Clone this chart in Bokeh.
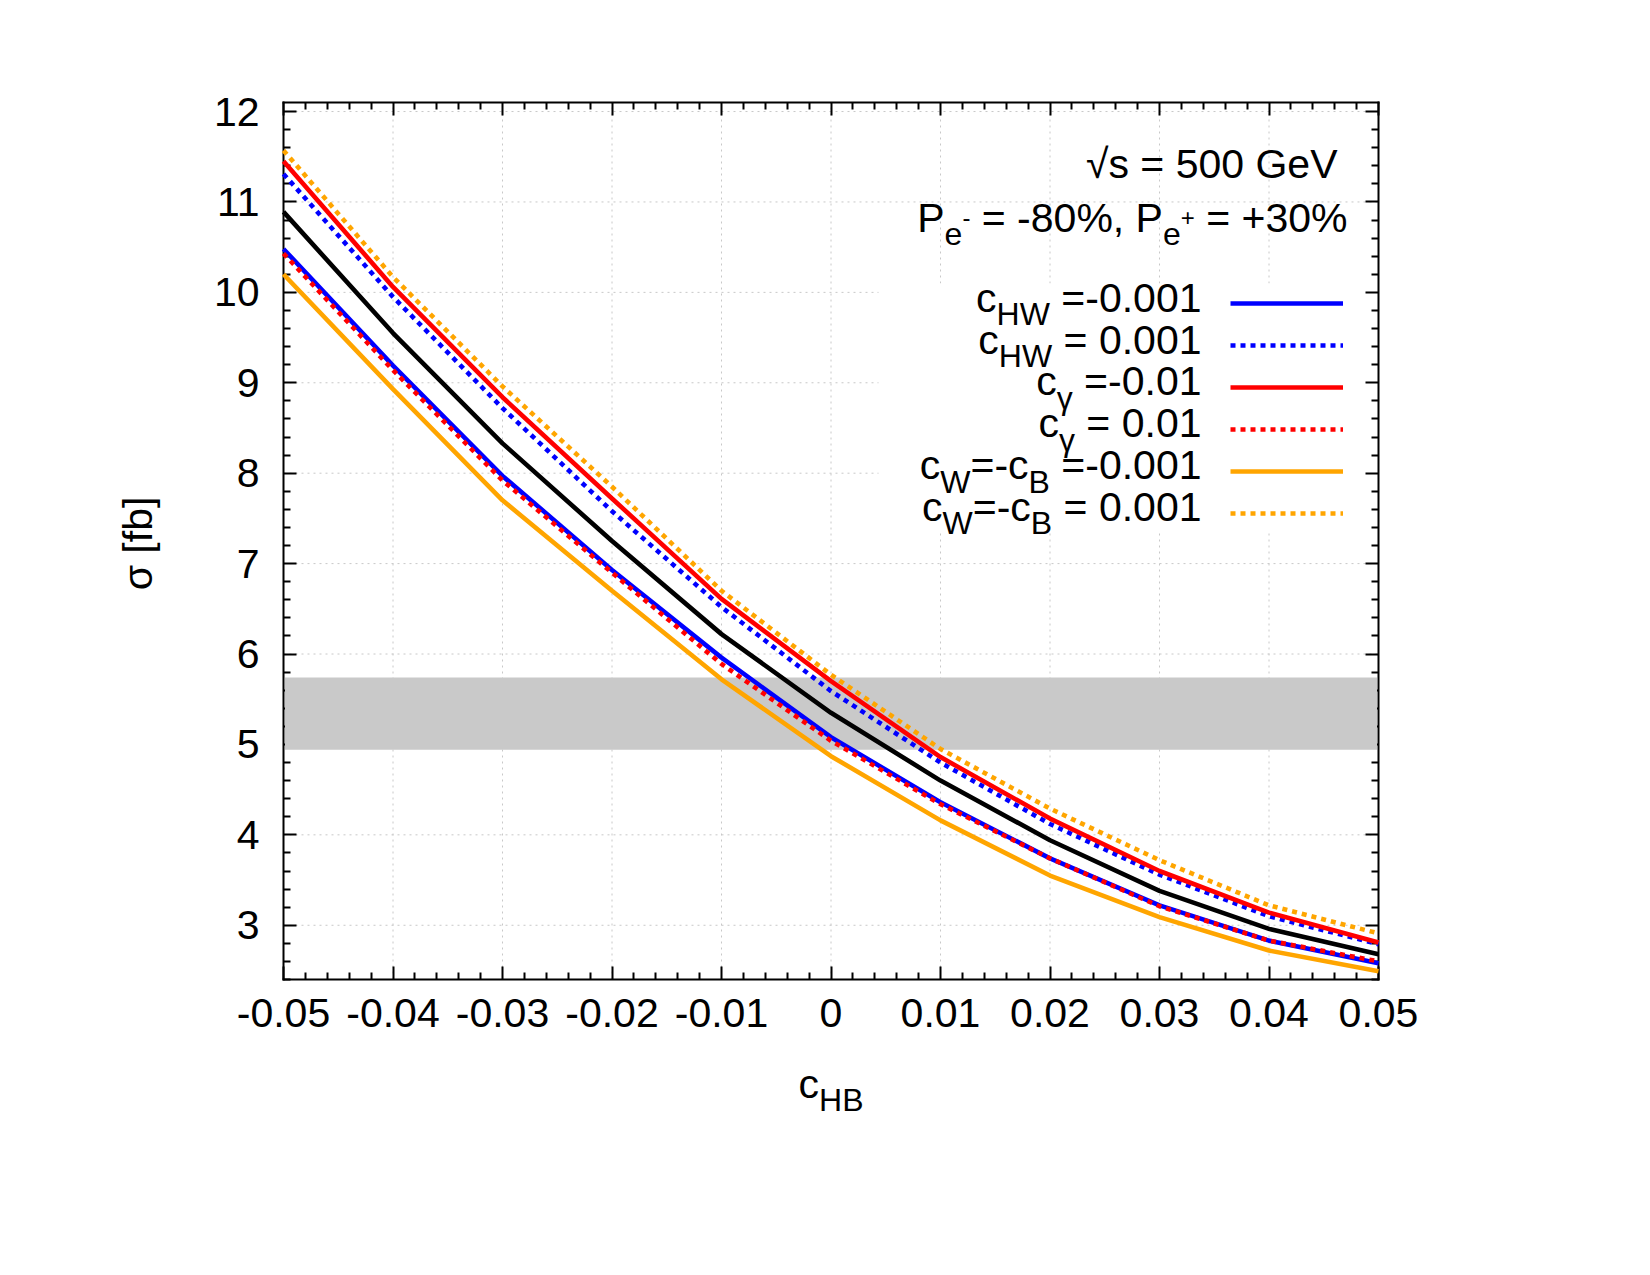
import math

import numpy as np
from bokeh.core.properties import value
from bokeh.embed import file_html
from bokeh.models import (BoxAnnotation, CustomJSTickFormatter, FixedTicker, Label,
                          Legend, LegendItem, LinearAxis, Range1d)
from bokeh.plotting import figure
from bokeh.resources import INLINE

# ---------------------------------------------------------------- data
c_hb = [-0.05, -0.04, -0.03, -0.02, -0.01, 0.0, 0.01, 0.02, 0.03, 0.04, 0.05]

sigma_sm      = [10.89, 9.55, 8.33, 7.25, 6.22, 5.35, 4.60, 3.94, 3.38, 2.96, 2.68]
sigma_chw_neg = [10.48, 9.19, 7.97, 6.93, 5.96, 5.08, 4.36, 3.74, 3.22, 2.83, 2.58]
sigma_chw_pos = [11.31, 9.95, 8.72, 7.58, 6.52, 5.59, 4.80, 4.12, 3.56, 3.10, 2.79]
sigma_cga_neg = [11.45, 10.06, 8.84, 7.72, 6.61, 5.70, 4.86, 4.18, 3.60, 3.14, 2.81]
sigma_cga_pos = [10.43, 9.14, 7.92, 6.90, 5.89, 5.04, 4.34, 3.74, 3.21, 2.83, 2.60]
sigma_cwb_neg = [10.20, 8.93, 7.70, 6.70, 5.72, 4.87, 4.16, 3.55, 3.09, 2.72, 2.49]
sigma_cwb_pos = [11.57, 10.17, 8.96, 7.85, 6.70, 5.77, 4.95, 4.29, 3.72, 3.22, 2.91]

# measured cross section band
band_lo, band_hi = 4.94, 5.74

x_ticks = [-0.05, -0.04, -0.03, -0.02, -0.01, 0.0, 0.01, 0.02, 0.03, 0.04, 0.05]
y_ticks = [3, 4, 5, 6, 7, 8, 9, 10, 11, 12]

# key entries: (label pieces, colour, dash, data)
series = [
    ([("c", "n"), ("HW", "sub"), (" =-0.001", "n")], "#0000ff", "solid", sigma_chw_neg),
    ([("c", "n"), ("HW", "sub"), (" = 0.001", "n")], "#0000ff", "dot", sigma_chw_pos),
    ([("c", "n"), ("\u03b3", "sub"), (" =-0.01", "n")], "#ff0000", "solid", sigma_cga_neg),
    ([("c", "n"), ("\u03b3", "sub"), (" = 0.01", "n")], "#ff0000", "dot", sigma_cga_pos),
    ([("c", "n"), ("W", "sub"), ("=-c", "n"), ("B", "sub"), (" =-0.001", "n")], "#ffa500", "solid", sigma_cwb_neg),
    ([("c", "n"), ("W", "sub"), ("=-c", "n"), ("B", "sub"), (" = 0.001", "n")], "#ffa500", "dot", sigma_cwb_pos),
]

# ---------------------------------------------------------------- layout
W, H = 1650, 1275
FL, FR, FT, FB = 283, 1378, 102, 979          # plot box edges in pixels
X0, X1, Y0, Y1 = -0.05, 0.05, 2.4, 12.1       # plot box in data units
FONT = "Liberation Sans"
FS, SUB, SUP = 41, 32, 24
LW = 4.6
DOT = "5 5"
BASE_SHIFT = 0.39                             # label anchor to baseline, in em


def px_to_x(px):
    return X0 + (px - FL) / (FR - FL) * (X1 - X0)


def py_to_y(py):
    return Y1 - (py - FT) / (FB - FT) * (Y1 - Y0)


# advance widths (1/1000 em) of the Helvetica/Arial metric set
ADV = {" ": 278, "%": 889, "+": 584, ",": 278, "-": 333, ".": 278, "=": 584,
       "B": 667, "G": 778, "H": 722, "P": 667, "V": 667, "W": 944,
       "c": 500, "e": 556, "s": 500, "\u03b3": 500, "\u221a": 549}
KIND = {"n": (FS, 0), "sub": (SUB, 13), "sup": (SUP, -7)}


def width(s, size):
    return sum(ADV.get(ch, 556) for ch in s) * size / 1000.0


# the drawing area covers the whole canvas; the axes sit on the box edges
p = figure(width=W, height=H,
           x_range=Range1d(px_to_x(0), px_to_x(W)), y_range=Range1d(py_to_y(H), py_to_y(0)),
           output_backend="svg", toolbar_location=None,
           min_border=0, min_border_left=0, min_border_right=0,
           min_border_top=0, min_border_bottom=0)
p.outline_line_color = None
p.background_fill_color = "white"
p.border_fill_color = "white"
p.xgrid.visible = False
p.ygrid.visible = False

x_minor = [round(v, 3) for v in np.arange(-0.05, 0.0501, 0.002) if round(v, 3) not in x_ticks]
y_minor = [round(v, 1) for v in np.arange(2.4, 12.11, 0.2) if abs(v - round(v)) > 1e-6]
x_ticker = FixedTicker(ticks=x_ticks, minor_ticks=x_minor)
y_ticker = FixedTicker(ticks=y_ticks, minor_ticks=y_minor)

x_fmt = CustomJSTickFormatter(code="return Math.abs(tick) < 1e-9 ? '0' : tick.toFixed(2);")
y_fmt = CustomJSTickFormatter(code="return tick.toFixed(0);")
blank = CustomJSTickFormatter(code="return '';")


def style_axis(ax, ticker, fmt, standoff, loc, bounds):
    ax.fixed_location = loc
    ax.bounds = bounds
    ax.ticker = ticker
    ax.formatter = fmt
    ax.axis_line_width = 2
    ax.axis_line_color = "black"
    ax.axis_line_cap = "square"
    ax.major_tick_line_width = 2
    ax.minor_tick_line_width = 2
    ax.major_tick_in = 13
    ax.major_tick_out = 0
    ax.minor_tick_in = 7
    ax.minor_tick_out = 0
    ax.major_label_text_font = FONT
    ax.major_label_text_font_size = f"{FS}px"
    ax.major_label_text_color = "black"
    ax.major_label_standoff = standoff


style_axis(p.xaxis[0], x_ticker, x_fmt, 19, Y0, (X0, X1))
style_axis(p.yaxis[0], y_ticker, y_fmt, 24, X0, (Y0, Y1))
top_axis = LinearAxis()
right_axis = LinearAxis()
style_axis(top_axis, x_ticker, blank, 0, Y1, (X0, X1))
style_axis(right_axis, y_ticker, blank, 0, X1, (Y0, Y1))
p.add_layout(top_axis, "above")
p.add_layout(right_axis, "right")

# dotted grid at the inner major ticks, confined to the box
gx = [t for t in x_ticks if X0 < t < X1]
gy = [t for t in y_ticks if Y0 < t < Y1]
grid_style = dict(line_color="#c8c8c8", line_width=1, line_dash="2 4", level="underlay")
p.segment(x0=gx, x1=gx, y0=[Y0] * len(gx), y1=[Y1] * len(gx), **grid_style)
p.segment(x0=[X0] * len(gy), x1=[X1] * len(gy), y0=gy, y1=gy, **grid_style)

# white box behind the key
p.add_layout(BoxAnnotation(left=px_to_x(878), right=X1, top=py_to_y(283), bottom=py_to_y(532),
                           fill_color="white", fill_alpha=1, line_alpha=0, level="glyph"))

# measured band
dx = 1.5 * (X1 - X0) / (FR - FL)
p.add_layout(BoxAnnotation(left=X0 + dx, right=X1 - dx, bottom=band_lo, top=band_hi,
                           fill_color="#c9c9c9", fill_alpha=1, line_alpha=0))

# curves
p.line(c_hb, sigma_sm, line_color="black", line_width=LW, level="overlay")
renderers = []
for pieces, color, dash, ys in series:
    r = p.line(c_hb, ys, line_color=color, line_width=LW,
               line_dash=(DOT if dash == "dot" else "solid"), level="overlay")
    renderers.append(r)

# key samples
legend = Legend(items=[LegendItem(label=value(" "), renderers=[r]) for r in renderers],
                location=(1230, H - 528), glyph_width=113, glyph_height=30,
                label_height=30, label_width=0, label_standoff=0, padding=0, margin=0,
                spacing=12, border_line_alpha=0, background_fill_alpha=0,
                label_text_font_size="1px")
p.add_layout(legend)


def rich(pieces, base_py, right_px=None, center_px=None):
    total = sum(width(t, KIND[k][0]) for t, k in pieces)
    x = right_px - total if right_px is not None else center_px - total / 2.0
    for t, k in pieces:
        size, dy = KIND[k]
        lead = len(t) - len(t.lstrip(" "))
        x += width(" " * lead, size)
        body = t.strip(" ")
        if body:
            p.add_layout(Label(x=px_to_x(x), y=py_to_y(base_py + dy - BASE_SHIFT * size),
                               text=body, text_font=FONT, text_font_size=f"{size}px",
                               text_color="black", text_align="left",
                               text_baseline="alphabetic"))
        x += width(t[lead:], size)


# key texts
for i, (pieces, _, _, _) in enumerate(series):
    rich(pieces, 313.3 + 41.8 * i, right_px=1201)

# beam conditions
rich([("\u221as = 500 GeV", "n")], 179, right_px=1337)
rich([("P", "n"), ("e", "sub"), ("-", "sup"), (" = -80%, P", "n"), ("e", "sub"),
      ("+", "sup"), (" = +30%", "n")], 233, right_px=1347)

# axis titles
rich([("c", "n"), ("HB", "sub")], 1099, center_px=(FL + FR) / 2)
p.add_layout(Label(x=px_to_x(153 - BASE_SHIFT * FS), y=py_to_y(543), text="\u03c3 [fb]",
                   angle=math.pi / 2, text_font=FONT, text_font_size=f"{FS}px",
                   text_color="black", text_align="center", text_baseline="alphabetic"))

open("out.html", "w").write(file_html(p, INLINE))
